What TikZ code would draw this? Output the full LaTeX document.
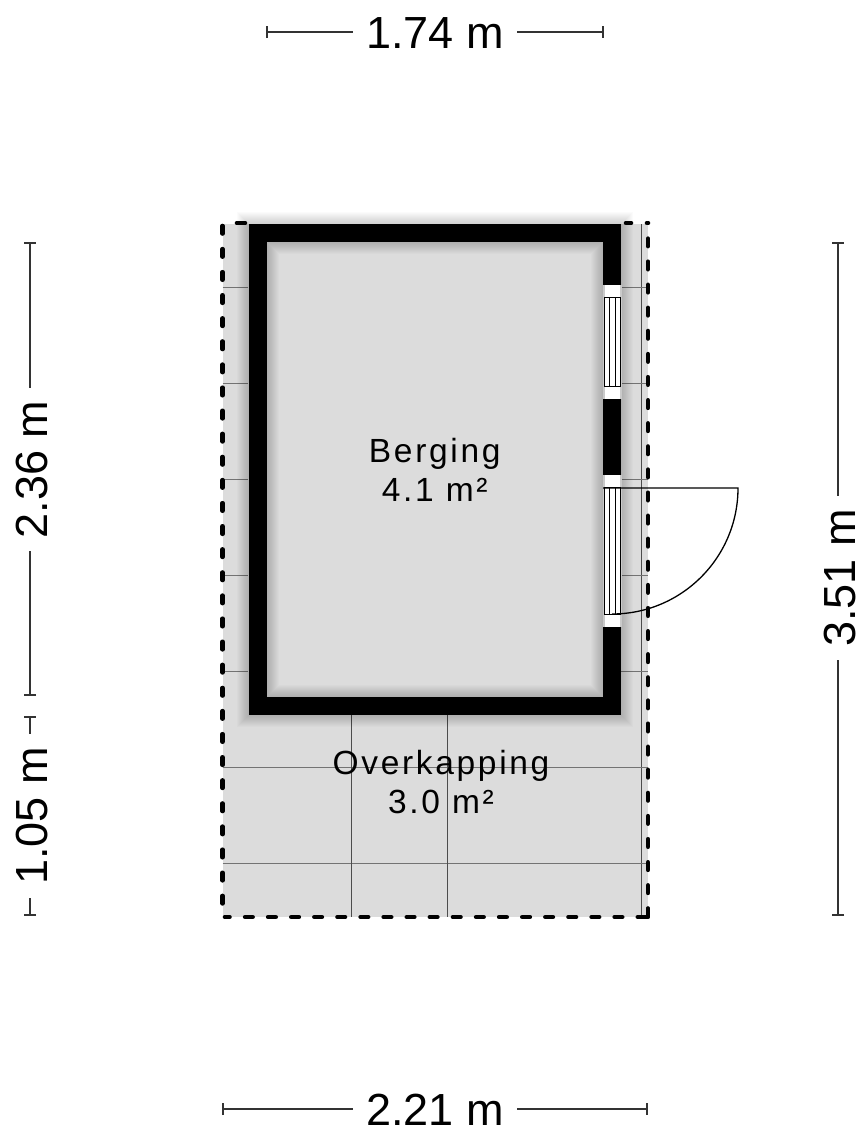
\documentclass[tikz,border=0pt]{standalone}
\usepackage{fontspec}
\setmainfont{Liberation Sans}
\usetikzlibrary{arrows.meta,positioning}
\definecolor{floor}{HTML}{DCDCDC}
\tikzset{
	gridline/.style={draw=black!55,line width=0.8pt},
	outline/.style={line width=4.6pt,line cap=round,dash pattern=on 7.5pt off 15.6pt},
	dimline/.style={draw=black!80,line width=1.6pt,{Bar[width=12pt,line width=1.6pt]}-},
	dimtext/.style={inner xsep=13pt,inner ysep=0pt,anchor=base,font=\fontsize{45}{45}\selectfont},
	roomtext/.style={align=center,inner sep=0pt,font=\fontsize{33.5}{39}\selectfont\addfontfeature{LetterSpace=8}},
	wall/.style={draw,line width=18pt,inner sep=0pt,minimum width=354.5pt,minimum height=473pt}
}
\begin{document}
\begin{tikzpicture}[x=1pt,y=-1pt]
	\useasboundingbox (0,0) rectangle (860,1128);
	\fill[floor] (222.5,224) rectangle (648,917);
	\draw[black!70,line width=0.8pt] (641,224) -- (641,917);
	\foreach \y in {287,383,479,575,671}
	{
		\draw[gridline] (222.5,\y) -- (248,\y);
		\draw[gridline] (621,\y) -- (648,\y);
	}
	\foreach \y in {767,863}
		\draw[gridline] (222.5,\y) -- (648,\y);
	\foreach \x in {351,447}
		\draw[black!70,line width=0.8pt] (\x,715) -- (\x,917);
	% soft shadow of the walls
	\foreach \w in {20,22,...,42}
		\node[wall,draw=black,line width=\w pt,opacity=0.017] at (434.75,469.5) {};
	% dashed outline
	\draw[outline] (222.5,226) -- (222.5,917);
	\draw[outline,dash phase=7.5pt] (648,223) -- (648,917);
	\draw[outline,dash phase=3pt] (225,917) -- (645,917);
	\foreach \x/\e in {237/245,626/631,647/648}
		\draw[line width=4.6pt,line cap=round] (\x,223) -- (\e,223);
	\draw[line width=4.6pt,line cap=round,line join=round] (642,917) -- (648,917) -- (648,909);
	\node[wall] (berging) at (434.75,469.5) {};
	% windows
	\foreach \a/\b in {285/399,475/627}
	{
		\fill[floor!92!black] (603,\a) rectangle (622,\b);
		\fill[white] (604.5,\a) rectangle (620,\b);
		\draw[line width=1pt] (604.5,\a+12.5) rectangle (620,\b-12.5);
		\foreach \x in {609,615}
			\draw[line width=1pt] (\x,\a+12.5) -- (\x,\b-12.5);
	}
	% door
	\draw[line width=1.3pt] (603,488) -- (738,488) arc[start angle=0,end angle=90,radius=126];
	\node[roomtext] at (berging) {Berging\\4.1 m²};
	\node[roomtext] (overkapping) at (441,782) {Overkapping\\3.0 m²};
	% dimensions
	\node[dimtext] (top) at (435,48) {1.74 m};
	\node[dimtext] (bottom) at (435,1125) {2.21 m};
	\node[dimtext,rotate=90] (upper) at (47,469.5) {2.36 m};
	\node[dimtext,rotate=90] (lower) at (47,816) {1.05 m};
	\node[dimtext,rotate=90] (total) at (855,578) {3.51 m};
	\coordinate (A1) at (266,32);
	\coordinate (A2) at (604,32);
	\coordinate (B1) at (222,1109);
	\coordinate (B2) at (648,1109);
	\coordinate (C1) at (30,242);
	\coordinate (C2) at (30,696);
	\coordinate (D1) at (30,716);
	\coordinate (D2) at (30,916);
	\coordinate (E1) at (838,242);
	\coordinate (E2) at (838,916);
	\draw[dimline] (A1) -- (A1 -| top.west);
	\draw[dimline] (A2) -- (A2 -| top.east);
	\draw[dimline] (B1) -- (B1 -| bottom.west);
	\draw[dimline] (B2) -- (B2 -| bottom.east);
	\draw[dimline] (C1) -- (C1 |- upper.east);
	\draw[dimline] (C2) -- (C2 |- upper.west);
	\draw[dimline] (D1) -- (D1 |- lower.east);
	\draw[dimline] (D2) -- (D2 |- lower.west);
	\draw[dimline] (E1) -- (E1 |- total.east);
	\draw[dimline] (E2) -- (E2 |- total.west);
\end{tikzpicture}
\end{document}
